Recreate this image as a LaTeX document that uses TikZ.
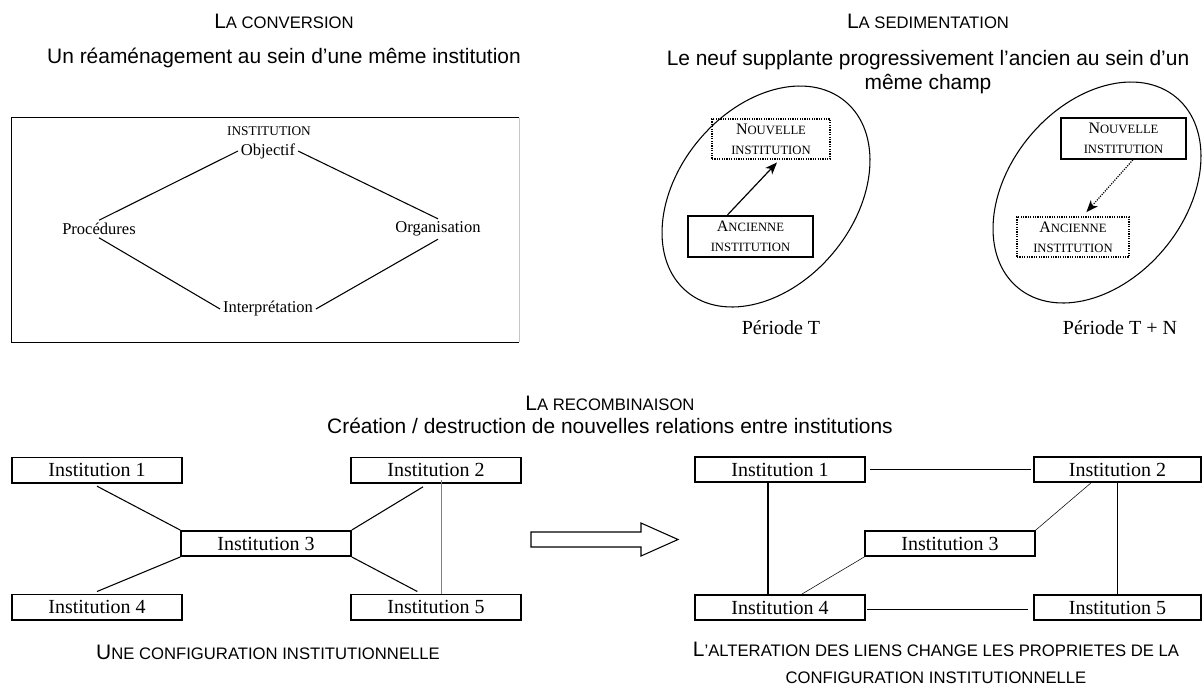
\documentclass[tikz,border=0pt]{standalone}
\usepackage{fontspec}
\setmainfont{Liberation Serif}
\newfontfamily\arialf{Liberation Sans}
\usetikzlibrary{arrows.meta,calc}
\newcommand\bigA{\fontsize{15.7}{19}\selectfont}
\newcommand\smallA{\fontsize{12.5}{19}\selectfont}
\newcommand\scN{\fontsize{12}{15}\selectfont}
\newcommand\scS{\fontsize{9.5}{15}\selectfont}
\tikzset{
  ttl/.style={font=\arialf\bigA, inner sep=0pt, align=center},
  lbl/.style={font=\fontsize{12.4}{15}\selectfont, inner sep=2pt},
  instbox/.style={draw, line width=1.25pt, minimum width=127.5pt, minimum height=19pt, inner sep=0pt, font=\fontsize{15}{18}\selectfont},
  sedbox/.style={line width=1.4pt, inner sep=0pt, align=center, font=\scS},
  dotbox/.style={sedbox, draw, dash pattern=on 0.9pt off 0.9pt, line width=1.2pt},
  solbox/.style={sedbox, draw},
  conn/.style={line width=0.8pt},
  thinconn/.style={line width=0.4pt},
  per/.style={font=\fontsize{15}{18}\selectfont, inner sep=0pt},
}
\begin{document}
\begin{tikzpicture}[x=0.75pt,y=-0.75pt]
\useasboundingbox (0,0) rectangle (1203,687);

% ---------- La conversion ----------
\node[ttl] (t1) at (284,21) {L{\smallA A CONVERSION}};
\node[ttl] (s1) at (284,58) {Un réaménagement au sein d’une même institution};
\node[minimum width=380.25pt, minimum height=168pt, inner sep=0pt] (conv) at (265.5,230) {};
\draw[line width=1.1pt] (conv.north east) -- (conv.north west) -- (conv.south west) -- (conv.south east);
\draw[gray!45, line width=0.6pt] (conv.north east) -- (conv.south east);
\node[font=\fontsize{10}{12}\selectfont, inner sep=0pt] (cinst) at (269,131) {INSTITUTION};
\node[lbl] (obj) at (268,151) {Objectif};
\node[lbl] (proc) at (99,229) {Procédures};
\node[lbl] (org) at (438,229) {Organisation};
\node[lbl] (interp) at (268,309) {Interprétation};
\draw[conn] (obj.west) -- (proc.north);
\draw[conn] (obj.east) -- (org.north);
\draw[conn] (proc.south) -- (interp.west);
\draw[conn] (org.south) -- (interp.east);

% ---------- La sedimentation ----------
\node[ttl] (t2) at (928,21) {L{\smallA A SEDIMENTATION}};
\node[ttl] (s2) at (928,72) {Le neuf supplante progressivement l’ancien au sein d’un\\[-1pt] même champ};
\draw[line width=0.8pt, rotate around={50.25:(766,196.5)}] (766,196.5) ellipse [x radius=123.8, y radius=87.7];
\draw[line width=0.8pt, rotate around={50.25:(1097,192.5)}] (1097,192.5) ellipse [x radius=123.8, y radius=87.7];

\node[dotbox, minimum width=88.5pt, minimum height=30pt] (nouv1) at (771,139) {{\scN N}OUVELLE\\INSTITUTION};
\node[solbox, minimum width=93.75pt, minimum height=31pt] (anc1) at (750.5,236.5) {{\scN A}NCIENNE\\INSTITUTION};
\node[solbox, minimum width=93.75pt, minimum height=30.75pt] (nouv2) at (1123.5,138.5) {{\scN N}OUVELLE\\INSTITUTION};
\node[dotbox, minimum width=84pt, minimum height=30pt] (anc2) at (1073,237) {{\scN A}NCIENNE\\INSTITUTION};
\draw[line width=0.9pt, -{Stealth[length=9pt, width=7pt, inset=2.5pt]}] ([xshift=-17.25pt]anc1.north) -- ([xshift=4.5pt, yshift=-2pt]nouv1.south);
\draw[line width=0.9pt, dash pattern=on 0.9pt off 0.9pt, -{Stealth[length=9pt, width=7pt, inset=2.5pt]}] ([xshift=7pt]nouv2.south) -- ([xshift=10pt, yshift=3pt]anc2.north);
\node[per] (pT) at (781,328) {Période T};
\node[per] (pTN) at (1120,328) {Période T + N};

% ---------- La recombinaison ----------
\node[ttl] (t3) at (610,403) {L{\smallA A RECOMBINAISON}};
\node[ttl] (s3) at (610,426) {Création / destruction de nouvelles relations entre institutions};

% left configuration
\node[instbox] (a1) at (97,470) {Institution 1};
\node[instbox] (a2) at (436,470) {Institution 2};
\node[instbox] (a3) at (266,543.5) {Institution 3};
\node[instbox] (a4) at (97,607) {Institution 4};
\node[instbox] (a5) at (436,607) {Institution 5};
\draw[conn] ([yshift=-2pt]a1.south) -- (a3.north west);
\draw[conn] (a3.south west) -- ([yshift=1.5pt]a4.north);
\draw[conn] ([xshift=-9.75pt, yshift=-2.5pt]a2.south) -- (a3.north east);
\draw[conn] (a3.south east) -- ([xshift=-14pt, yshift=1.5pt]a5.north);
\draw[thinconn, gray] ([xshift=3.75pt, yshift=2.5pt]a2.south) -- ([xshift=3.75pt]a5.north);
\node[ttl] (c1) at (268,652) {U{\smallA NE CONFIGURATION INSTITUTIONNELLE}};

% big hollow arrow
\draw[line width=0.8pt, fill=white] (531,532) -- (641,532) -- (641,523) -- (678,539.5) -- (641,556) -- (641,547) -- (531,547) -- cycle;

% right configuration
\node[instbox] (b1) at (780,469.5) {Institution 1};
\node[instbox, minimum width=125.25pt] (b2) at (1117.5,469.5) {Institution 2};
\node[instbox] (b3) at (950,543.5) {Institution 3};
\node[instbox] (b4) at (780,607.5) {Institution 4};
\node[instbox, minimum width=125.25pt] (b5) at (1117.5,607.5) {Institution 5};
\draw[conn, shorten <=3pt, shorten >=2pt] (b1.east) -- (b2.west |- b1.east);
\draw[conn, shorten <=1pt, shorten >=4pt] ([yshift=-1.2pt]b4.east) -- ([yshift=-1.2pt]b5.west);
\draw[conn] ([xshift=-9pt]b1.south) -- ([xshift=-9pt]b4.north);
\draw[conn] (b2.south) -- (b5.north);
\draw[thinconn] (b3.north east) -- ([xshift=-20pt]b2.south);
\draw[thinconn] (b3.south west) -- ([xshift=16.5pt]b4.north);
\node[ttl] (c2) at (936,663) {L{\smallA ’ALTERATION DES LIENS CHANGE LES PROPRIETES DE LA}\\[1pt] {\smallA CONFIGURATION INSTITUTIONNELLE}};
\end{tikzpicture}
\end{document}
